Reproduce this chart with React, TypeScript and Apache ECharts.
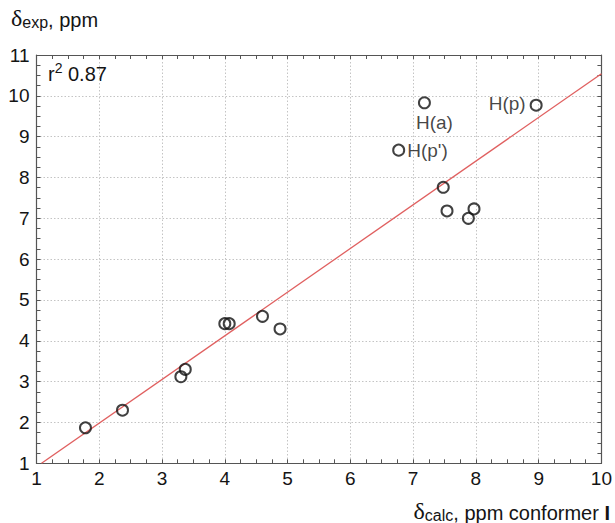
import React, { useEffect, useRef } from "react";
import * as echarts from "echarts";

const xCalc = [1.78, 2.37, 3.3, 3.37, 4.0, 4.07, 4.6, 4.88, 6.77, 7.18, 7.48, 7.54, 7.88, 7.97, 8.96];
const yExp = [1.87, 2.3, 3.12, 3.3, 4.42, 4.42, 4.6, 4.29, 8.67, 9.83, 7.76, 7.18, 7.0, 7.23, 9.77];
const pointLabels = ["", "", "", "", "", "", "", "", "H(p')", "H(a)", "", "", "", "", "H(p)"];
const fitLineX = [1.08, 10];
const fitLineY = [1.0, 10.54];
const xTicks = [1, 10];
const yTicks = [1, 11];

const FONT = "Liberation Sans, Arial, sans-serif";
const INK = "#141414";

export default function App() {
  const ref = useRef<HTMLDivElement>(null);
  useEffect(() => {
    if (!ref.current) return;
    const chart = echarts.init(ref.current, null, { renderer: "svg" });
    const labelPos: Record<string, any> = {
      "H(p')": { position: "right", distance: 2 },
      "H(a)": { position: "bottom", distance: 4, offset: [10, 0] },
      "H(p)": { position: "left", distance: 4, offset: [0, -2] },
    };
    const scatterData = xCalc.map((x, i) => {
      const name = pointLabels[i];
      const item: any = { value: [x, yExp[i]] };
      if (name) {
        item.label = {
          show: true,
          formatter: name,
          fontSize: 19,
          fontFamily: FONT,
          color: INK,
          ...labelPos[name],
        };
      }
      return item;
    });
    const axisCommon = {
      type: "value",
      interval: 1,
      axisLine: { show: true, onZero: false, lineStyle: { color: "#555", width: 1.2 } },
      axisTick: { show: true, inside: true, length: 4, lineStyle: { color: "#555" } },
      minorTick: { show: true, splitNumber: 4, length: 4, lineStyle: { color: "#555" } },
    };
    chart.setOption({
      animation: false,
      backgroundColor: "#fff",
      grid: { left: 36.5, right: 10.5, top: 55, bottom: 59.7, containLabel: false },
      xAxis: [
        {
          ...axisCommon,
          min: xTicks[0],
          max: xTicks[1],
          position: "bottom",
          axisLabel: { fontSize: 19, fontFamily: FONT, color: INK, margin: 6 },
          splitLine: { show: true, lineStyle: { color: "#c4c4c4", type: [1.5, 2], width: 1 } },
        },
        {
          ...axisCommon,
          min: xTicks[0],
          max: xTicks[1],
          position: "top",
          axisLabel: { show: false },
          splitLine: { show: false },
        },
      ],
      yAxis: [
        {
          ...axisCommon,
          min: yTicks[0],
          max: yTicks[1],
          position: "left",
          axisLabel: { fontSize: 19, fontFamily: FONT, color: INK, margin: 7 },
          splitLine: { show: true, lineStyle: { color: "#c4c4c4", type: [1.5, 2], width: 1 } },
        },
        {
          ...axisCommon,
          min: yTicks[0],
          max: yTicks[1],
          position: "right",
          axisLabel: { show: false },
          splitLine: { show: false },
        },
      ],
      series: [
        {
          type: "line",
          data: fitLineX.map((x, i) => [x, fitLineY[i]]),
          showSymbol: false,
          symbol: "none",
          lineStyle: { color: "#e06060", width: 1.3 },
          silent: true,
          z: 1,
        },
        {
          type: "scatter",
          data: scatterData,
          symbol: "circle",
          symbolSize: 11,
          itemStyle: { color: "rgba(255,255,255,0)", borderColor: "#111", borderWidth: 2 },
          z: 3,
        },
      ],
      graphic: [
        {
          type: "text",
          left: 11,
          top: 6,
          style: {
            text: "{d|δ}{s|exp}{n|, ppm}",
            rich: {
              d: { fontFamily: "Liberation Serif, serif", fontSize: 24, fill: INK, verticalAlign: "bottom" },
              s: { fontFamily: FONT, fontSize: 16, fill: INK, padding: [11, 0, 0, 0], verticalAlign: "bottom" },
              n: { fontFamily: FONT, fontSize: 20, fill: INK, verticalAlign: "bottom" },
            },
          },
        },
        {
          type: "text",
          right: 5,
          bottom: 0,
          style: {
            text: "{d|δ}{s|calc}{n|, ppm conformer }{b|I}",
            rich: {
              d: { fontFamily: "Liberation Serif, serif", fontSize: 24, fill: INK, verticalAlign: "bottom" },
              s: { fontFamily: FONT, fontSize: 16, fill: INK, padding: [11, 0, 0, 0], verticalAlign: "bottom" },
              n: { fontFamily: FONT, fontSize: 20, fill: INK, verticalAlign: "bottom" },
              b: { fontFamily: FONT, fontSize: 20, fill: INK, fontWeight: "bold", verticalAlign: "bottom" },
            },
          },
        },
        {
          type: "text",
          left: 48,
          top: 61,
          style: {
            text: "{r|r}{p|2}{n| 0.87}",
            rich: {
              r: { fontFamily: FONT, fontSize: 20, fill: INK, verticalAlign: "bottom" },
              p: { fontFamily: FONT, fontSize: 14, fill: INK, padding: [0, 0, 9, 0], verticalAlign: "bottom" },
              n: { fontFamily: FONT, fontSize: 20, fill: INK, verticalAlign: "bottom" },
            },
          },
        },
      ],
    });
    return () => chart.dispose();
  }, []);
  return (
    <div
      ref={ref}
      style={{ position: "fixed", left: 0, top: 0, width: 615, height: 523, background: "#fff" }}
    />
  );
}
